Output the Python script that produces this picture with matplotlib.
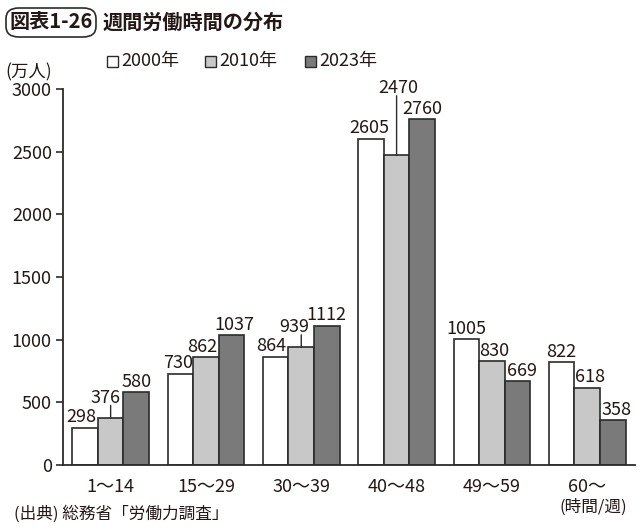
import matplotlib
matplotlib.use('Agg')
import matplotlib.pyplot as plt
import numpy as np
from matplotlib.patches import FancyBboxPatch, Rectangle

plt.rcParams['font.family'] = ['Noto Sans CJK JP', 'DejaVu Sans']

# データ
categories = ['1〜14', '15〜29', '30〜39', '40〜48', '49〜59', '60〜']
years = ['2000年', '2010年', '2023年']
v2000 = [298, 730, 864, 2605, 1005, 822]
v2010 = [376, 862, 939, 2470, 830, 618]
v2023 = [580, 1037, 1112, 2760, 669, 358]
yticks = [0, 500, 1000, 1500, 2000, 2500, 3000]

colors = ['#ffffff', '#c8c8c8', '#7a7a7a']
edge = '#2b2b2b'
txt = '#231815'

fig = plt.figure(figsize=(6.4, 5.3), dpi=100)
ax = fig.add_axes([0.0984, 0.1226, 0.8936, 0.7094])

x = np.arange(len(categories))
w = 0.268
series = [v2000, v2010, v2023]
for k, vals in enumerate(series):
    ax.bar(x + (k - 1) * w, vals, width=w, color=colors[k],
           edgecolor=edge, linewidth=1.2)

# 値ラベル (dx, dy は pt 単位、引き出し線あり/なし)
fs = 13
offsets = {
    (0, 0): (-3, 1, False), (0, 1): (-4, 8, True), (0, 2): (0, 1, False),
    (1, 0): (-2, 1, False), (1, 1): (-3, 1, False), (1, 2): (2, 1, False),
    (2, 0): (-3, 1, False), (2, 1): (-5, 8, True), (2, 2): (0, 1, False),
    (3, 0): (-1, 1, False), (3, 1): (1, 42, True), (3, 2): (0, 1, False),
    (4, 0): (0, 1, False), (4, 1): (2, 1, False), (4, 2): (3.5, 1, False),
    (5, 0): (0, 1, False), (5, 1): (2, 1, False), (5, 2): (3, 1, False),
}
for k, vals in enumerate(series):
    for i, v in enumerate(vals):
        dx, dy, line = offsets[(i, k)]
        bx = x[i] + (k - 1) * w
        ax.annotate(str(v), (bx, v), xytext=(dx, dy), textcoords='offset points',
                    ha='center', va='bottom', fontsize=fs, color=txt)
        if line:
            ax.annotate('', (bx, v), xytext=(0, dy + 1), textcoords='offset points',
                        arrowprops=dict(arrowstyle='-', color=edge, lw=1.0,
                                        shrinkA=0, shrinkB=0))

ax.set_xlim(-0.5, 5.5)
ax.set_ylim(0, 3000)
ax.set_yticks(yticks)
ax.set_yticklabels([str(t) for t in yticks])
ax.set_xticks(x)
ax.set_xticklabels(categories)
ax.tick_params(axis='y', direction='out', length=5, width=1.2, colors=edge,
               labelsize=13, labelcolor=txt, pad=3)
ax.tick_params(axis='x', length=0, labelsize=13, labelcolor=txt, pad=9)
for s in ['top', 'right']:
    ax.spines[s].set_visible(False)
for s in ['left', 'bottom']:
    ax.spines[s].set_linewidth(1.3)
    ax.spines[s].set_color(edge)

# タイトル
box = FancyBboxPatch((6 / 640, 1 - 37 / 530), 90 / 640, 29 / 530,
                     boxstyle='round,pad=0,rounding_size=0.02',
                     transform=fig.transFigure, fill=False,
                     edgecolor=edge, linewidth=1.2)
fig.patches.append(box)
fig.text(51 / 640, 1 - 22 / 530, '図表1-26', ha='center', va='center',
         fontsize=14.5, fontweight='bold', color=txt)
fig.text(103 / 640, 1 - 22 / 530, '週間労働時間の分布', ha='left', va='center',
         fontsize=14.5, fontweight='bold', color=txt)

# 凡例
for k, (lx, name) in enumerate(zip([107, 205, 305], years)):
    fig.patches.append(Rectangle((lx / 640, 1 - 67 / 530), 11 / 640, 11 / 530,
                                 transform=fig.transFigure, facecolor=colors[k],
                                 edgecolor=edge, linewidth=1.0))
    fig.text((lx + 14) / 640, 1 - 61 / 530, name, ha='left', va='center',
             fontsize=13, color=txt)

fig.text(5 / 640, 1 - 72 / 530, '(万人)', ha='left', va='center',
         fontsize=12.5, color=txt)
fig.text(593 / 640, 1 - 507 / 530, '(時間/週)', ha='center', va='center',
         fontsize=12, color=txt)
fig.text(14 / 640, 1 - 514 / 530, '(出典) 総務省「労働力調査」', ha='left',
         va='center', fontsize=12, color=txt)

fig.savefig('out.png', dpi=100)
